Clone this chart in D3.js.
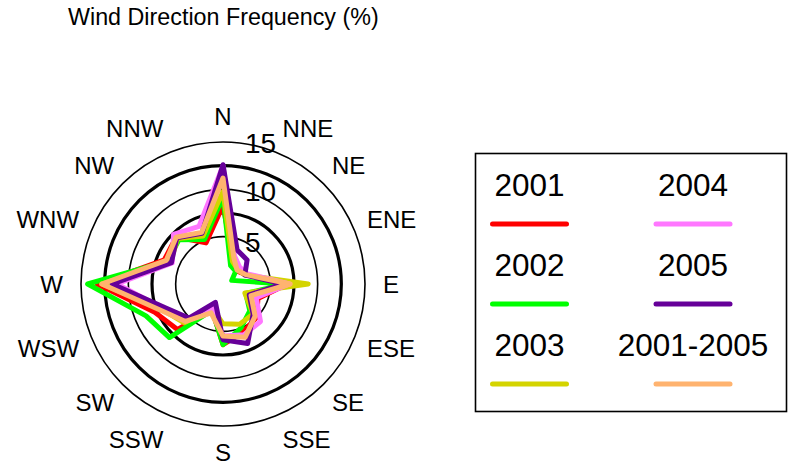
<!DOCTYPE html>
<html lang="en">
  <head>
    <meta charset="utf-8">
    <title>Wind Direction Frequency</title>
    <script type="text/javascript" src="https://d3js.org/d3.v7.min.js"></script>
  </head>
  <style>
    body { margin: 0; background: #fff; }
    text { font-family: "Liberation Sans", Arial, sans-serif; fill: #000; }
  </style>
  <body>
    <svg class="chart"></svg>
  </body>

  <script>
    //Data
    const directions = ["N", "NNE", "NE", "ENE", "E", "ESE", "SE", "SSE",
                        "S", "SSW", "SW", "WSW", "W", "WNW", "NW", "NNW"];
    const seriesNames = ["2001", "2002", "2003", "2004", "2005", "2001-2005"];
    const seriesColors = ["#ff0000", "#00ff00", "#d4d400", "#ff77ff", "#660099", "#ffb36f"];

    const y2001 = [8.3, 2.8, 2.0, 2.6, 6.8, 4.0, 5.0, 5.5, 6.4, 3.0, 6.8, 7.8, 13.3, 6.7, 7.0, 4.7];
    const y2002 = [9.2, 2.1, 1.9, 1.0, 6.6, 2.6, 4.0, 5.0, 6.4, 3.0, 8.0, 8.8, 14.3, 6.3, 6.6, 5.1];
    const y2003 = [9.8, 2.6, 2.2, 2.5, 9.0, 2.5, 4.5, 4.6, 4.2, 2.8, 5.8, 7.0, 12.8, 6.0, 6.8, 5.5];
    const y2004 = [12.5, 3.2, 2.5, 2.8, 7.0, 3.8, 5.6, 5.8, 5.5, 2.8, 5.3, 6.8, 11.2, 5.8, 7.4, 6.6];
    const y2005 = [12.6, 3.9, 3.6, 2.5, 6.4, 3.0, 4.5, 6.8, 5.9, 2.1, 5.1, 6.6, 11.7, 5.9, 6.9, 5.8];
    const yAll  = [11.2, 3.0, 2.1, 2.6, 7.1, 3.2, 4.8, 6.1, 5.5, 3.3, 5.6, 7.2, 12.8, 6.5, 7.0, 5.9];
    const seriesValues = [y2001, y2002, y2003, y2004, y2005, yAll];

    const ringValues = [5, 7.5, 10, 12.5, 15];
    const ringLabels = [5, 10, 15];

    //Layout
    const width = 793, height = 463;
    const cx = 223, cy = 284;
    const maxR = 142;

    var svg = d3.select(".chart")
      .attr("width", width)
      .attr("height", height);

    svg.append("text")
      .attr("x", 68)
      .attr("y", 25)
      .style("font-size", "23.3px")
      .text("Wind Direction Frequency (%)");

    var rScale = d3.scaleLinear().domain([0, 15]).range([0, maxR]);
    var angle = d3.scaleLinear().domain([0, directions.length]).range([0, 2 * Math.PI]);

    var polar = svg.append("g").attr("transform", "translate(" + cx + "," + cy + ")");

    //rings - half steps drawn heavier
    polar.selectAll(".ring")
      .data(ringValues)
      .enter()
      .append("circle")
        .attr("class", "ring")
        .attr("r", d=>rScale(d))
        .attr("fill", "none")
        .attr("stroke", "#000")
        .attr("stroke-width", d=>d % 5 == 0 ? 1.6 : 3.2);

    //series
    var line = d3.lineRadial()
      .angle((d,i)=>angle(i))
      .radius(d=>rScale(d))
      .curve(d3.curveLinearClosed);

    polar.selectAll(".series")
      .data(seriesValues)
      .enter()
      .append("path")
        .attr("class", "series")
        .attr("d", line)
        .attr("fill", "none")
        .attr("stroke", (d,i)=>seriesColors[i])
        .attr("stroke-width", 5)
        .attr("stroke-linejoin", "round");

    //ring labels sit on the ring a little right of north
    polar.selectAll(".ringLabel")
      .data(ringLabels)
      .enter()
      .append("text")
        .attr("class", "ringLabel")
        .attr("x", 22)
        .attr("y", d=>-Math.sqrt(rScale(d) * rScale(d) - 22 * 22))
        .attr("dominant-baseline", "central")
        .style("font-size", "28px")
        .text(d=>d);

    //direction labels
    polar.selectAll(".dirLabel")
      .data(directions)
      .enter()
      .append("text")
        .attr("class", "dirLabel")
        .attr("x", (d,i)=>(160 - 6 * Math.abs(Math.sin(2 * angle(i)))) * Math.sin(angle(i)))
        .attr("y", (d,i)=>-168 * Math.cos(angle(i)))
        .attr("dominant-baseline", "central")
        .attr("text-anchor", function(d, i) {
          var s = Math.sin(angle(i));
          if (Math.abs(s) < 0.01) return "middle";
          return s > 0 ? "start" : "end";
        })
        .style("font-size", "24px")
        .text(d=>d);

    //legend
    var legend = svg.append("g");
    legend.append("rect")
      .attr("x", 475.5)
      .attr("y", 153.5)
      .attr("width", 311)
      .attr("height", 258)
      .attr("fill", "none")
      .attr("stroke", "#000")
      .attr("stroke-width", 1.6);

    var colX = [529.5, 693];
    var rowY = [224, 304, 384];
    seriesNames.forEach(function(name, i) {
      var x = colX[Math.floor(i / 3)];
      var y = rowY[i % 3];
      legend.append("text")
        .attr("x", x)
        .attr("y", y - 39)
        .attr("text-anchor", "middle")
        .attr("dominant-baseline", "central")
        .style("font-size", "31.5px")
        .text(name);
      legend.append("line")
        .attr("x1", x - 37)
        .attr("x2", x + 37)
        .attr("y1", y)
        .attr("y2", y)
        .attr("stroke", seriesColors[i])
        .attr("stroke-width", 5)
        .attr("stroke-linecap", "round");
    });
  </script>
</html>
